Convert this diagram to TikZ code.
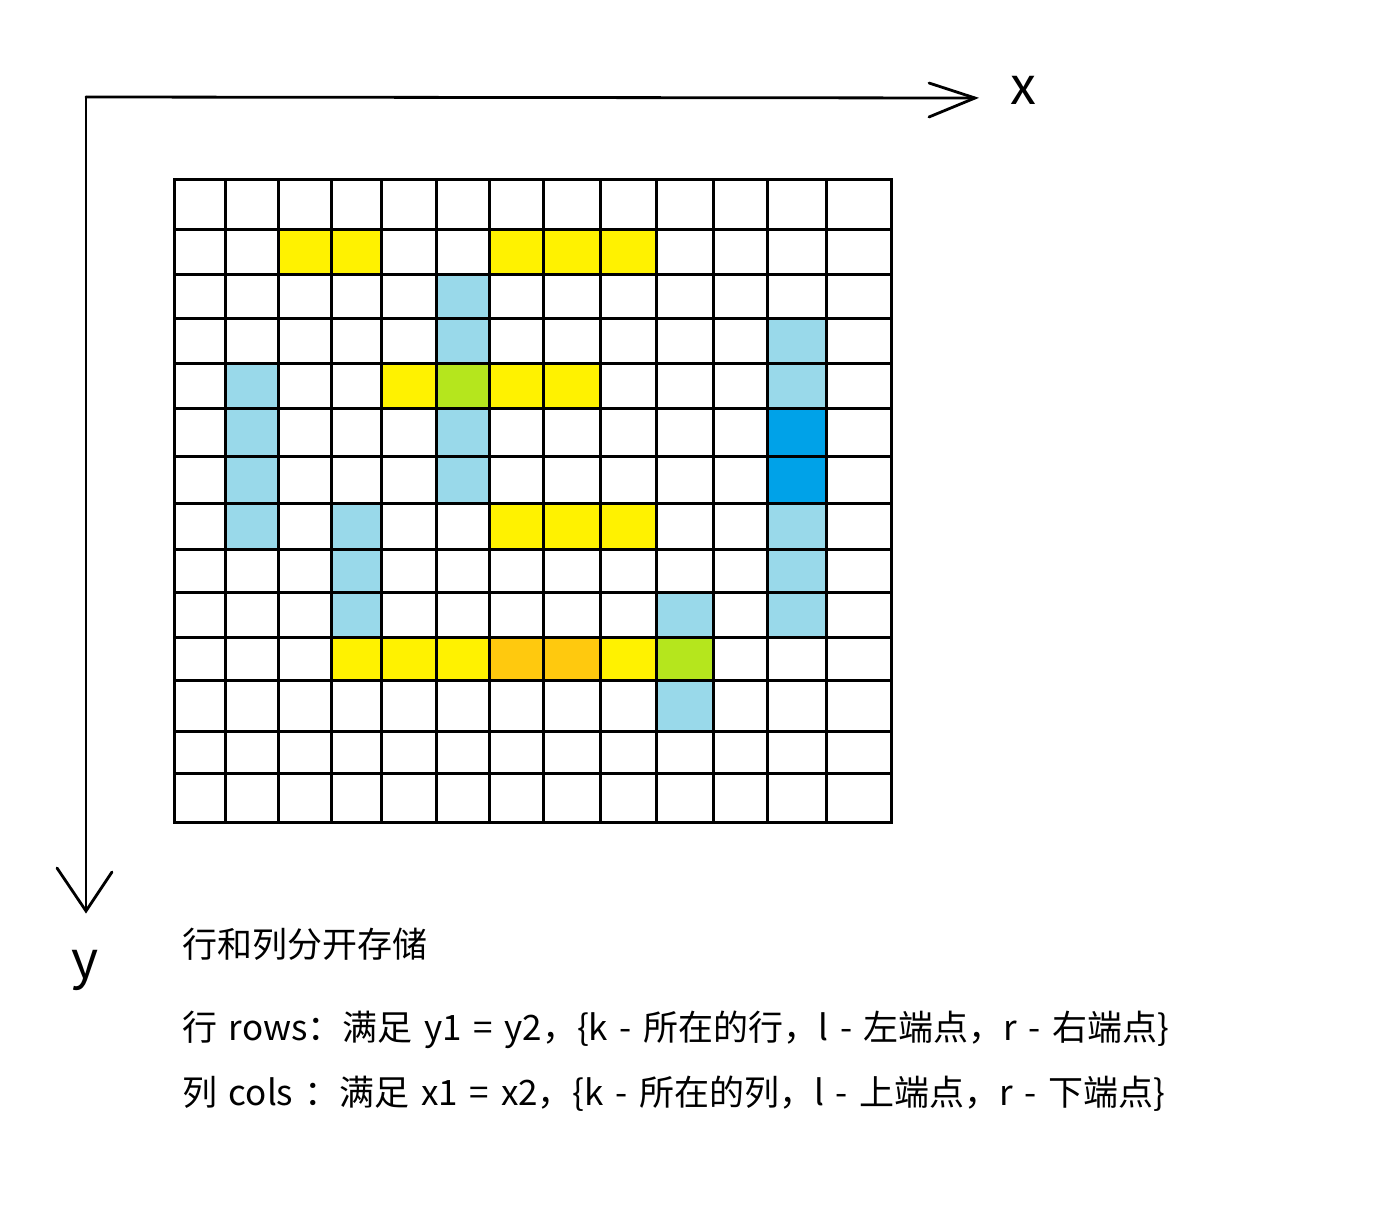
\documentclass[tikz,border=0pt]{standalone}
\usepackage{fontspec}
\setmainfont{Noto Sans CJK SC}
\usepackage{xcolor}
\usepackage{tikz}
\usetikzlibrary{positioning, calc}

\definecolor{cellyellow}{HTML}{FFF200}
\definecolor{cellblue}{HTML}{99D9EA}
\definecolor{celldeep}{HTML}{00A2E8}
\definecolor{cellgreen}{HTML}{B5E61D}
\definecolor{cellorange}{HTML}{FFC90E}

% column and row borders of the grid
\def\colx{{174,225,278,331,381,436,489,543,600,656,713,767,826,891}}
\def\rowy{{179,229,274,318,363,408,456,503,549,592,637,680,731,773,822}}
% wider word gaps for the notes
\newcommand\notefont{\fontsize{35}{40}\selectfont\spaceskip=11.6pt\relax}

\begin{document}
\begin{tikzpicture}[x=1pt, y=-1pt,
  gridline/.style={line width=3pt, line cap=rect},
  axisline/.style={line width=2.8pt, line cap=round},
  note/.style={anchor=west, inner sep=0pt, font=\notefont},
  axislabel/.style={inner sep=0pt, font=\fontsize{52}{56}\selectfont}]

\fill[white] (0,0) rectangle (1373,1213);
\useasboundingbox (0,0) rectangle (1373,1213);

% coloured cells
\foreach \c/\r/\col in {2/1/cellyellow, 3/1/cellyellow, 6/1/cellyellow, 7/1/cellyellow, 8/1/cellyellow,
    5/2/cellblue, 5/3/cellblue, 11/3/cellblue,
    1/4/cellblue, 4/4/cellyellow, 5/4/cellgreen, 6/4/cellyellow, 7/4/cellyellow, 11/4/cellblue,
    1/5/cellblue, 5/5/cellblue, 11/5/celldeep,
    1/6/cellblue, 5/6/cellblue, 11/6/celldeep,
    1/7/cellblue, 3/7/cellblue, 6/7/cellyellow, 7/7/cellyellow, 8/7/cellyellow, 11/7/cellblue,
    3/8/cellblue, 11/8/cellblue,
    3/9/cellblue, 9/9/cellblue, 11/9/cellblue,
    3/10/cellyellow, 4/10/cellyellow, 5/10/cellyellow, 6/10/cellorange, 7/10/cellorange,
    8/10/cellyellow, 9/10/cellgreen,
    9/11/cellblue} {
  \pgfmathsetmacro\xa{\colx[\c]}
  \pgfmathsetmacro\xb{\colx[\c+1]}
  \pgfmathsetmacro\ya{\rowy[\r]}
  \pgfmathsetmacro\yb{\rowy[\r+1]}
  \fill[\col] (\xa,\ya) rectangle (\xb,\yb);
}

% grid
\foreach \i in {0,...,13} {
  \pgfmathsetmacro\xa{\colx[\i]}
  \draw[gridline] (\xa,179) -- (\xa,822);
}
\foreach \j in {0,...,14} {
  \pgfmathsetmacro\ya{\rowy[\j]}
  \draw[gridline] (174,\ya) -- (891,\ya);
}

% axes
\coordinate (origin) at (86,97);
\coordinate (xtip) at (975,98);
\coordinate (ytip) at (86,911);
\coordinate (xbarbup) at (929,83);
\coordinate (xbarbdown) at (929,117);
\coordinate (ybarbleft) at (57,868);
\coordinate (ybarbright) at (112,872);
\draw[axisline] (origin) -- (xtip);
\draw[axisline] (origin) -- (ytip);
\draw[axisline] (xbarbup) -- (xtip) -- (xbarbdown);
\draw[axisline] (ybarbleft) -- (ytip) -- (ybarbright);
\node[axislabel] (xlabel) at (1023,90) {x};
\node[axislabel] (ylabel) at (85,970) {y};

% notes
\node[note] (title) at (182,944) {行和列分开存储};
\node[note] (rowsnote) at (182,1030) {行 rows：满足 y1 = y2，\{k - 所在的行，l - 左端点，r - 右端点\}};
\node[note] (colsnote) at (182,1094) {列 cols ：满足 x1 = x2，\{k - 所在的列，l - 上端点，r - 下端点\}};

\end{tikzpicture}
\end{document}
